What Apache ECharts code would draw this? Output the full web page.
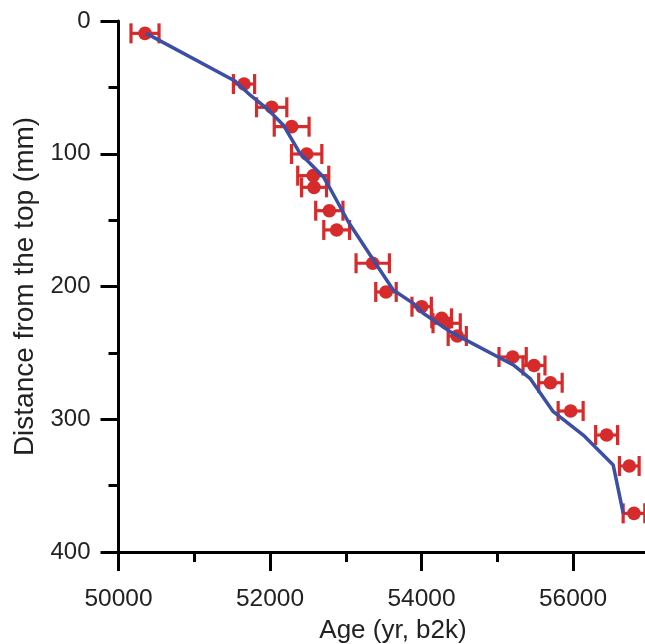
<!DOCTYPE html>
<html>
<head>
<meta charset="utf-8">
<script src="https://cdn.jsdelivr.net/npm/echarts@6/dist/echarts.min.js"></script>
<style>
html,body{margin:0;padding:0;background:#fff;overflow:hidden;}
#chart{width:645px;height:644px;}
</style>
</head>
<body>
<div id="chart"></div>
<script>
// Measured samples: age (yr b2k), depth (mm), age uncertainty (± yr)
const sampleAge = [50350, 51657, 52022, 52286, 52484, 52571, 52581, 52783, 52880, 53356, 53531,
  54002, 54266, 54332, 54472, 55203, 55485, 55702, 55969, 56444, 56743, 56805];
const sampleDepth = [9.3, 47.5, 65, 79.6, 100.2, 116.5, 125.3, 142.9, 157.4, 182.5, 204.1,
  215.2, 224, 227.7, 237.3, 253.1, 259.5, 272.5, 293.8, 311.9, 335.2, 370.9];
const sampleErr = [185, 140, 200, 230, 200, 205, 165, 180, 170, 220, 135,
  128, 130, 180, 120, 180, 145, 155, 165, 145, 130, 143];

// Age-depth model line
const modelAge = [50366, 51538, 51736, 51956, 52175, 52396, 52703, 52792, 53033, 53452, 53627,
  53891, 54023, 54376, 55212, 55432, 55739, 56135, 56531, 56663];
const modelDepth = [9.3, 45.2, 55.7, 65.8, 78.3, 99.7, 117.3, 126, 151.2, 187.6, 202.6,
  212.7, 220.2, 234, 259.1, 269.2, 294.3, 311.9, 334.5, 370.9];

const xTitle = 'Age (yr, b2k)';
const yTitle = 'Distance from the top (mm)';

const RED = '#d62a2b';
const BLUE = '#3c4ea5';
const FONT = '"Liberation Sans", Arial, Helvetica, sans-serif';

const errData = sampleAge.map((a, i) => [a, sampleDepth[i], sampleErr[i]]);
const lineData = modelAge.map((a, i) => [a, modelDepth[i]]);

const chart = echarts.init(document.getElementById('chart'), null, {renderer: 'canvas'});
chart.setOption({
  backgroundColor: '#fff',
  animation: false,
  grid: {left: 118.5, top: 21, width: 606, height: 531, containLabel: false, outerBoundsMode: 'none'},
  graphic: [{
    type: 'text', x: 393, y: 631, z: 10,
    style: {text: xTitle, fontFamily: FONT, fontSize: 26, fill: '#222',
      textAlign: 'center', textVerticalAlign: 'middle'}
  }],
  xAxis: {
    type: 'value', min: 50000, max: 58000, interval: 2000,
    axisLine: {show: true, onZero: false, lineStyle: {color: '#000', width: 3}},
    axisTick: {show: true, length: 19, lineStyle: {color: '#000', width: 3}},
    minorTick: {show: true, splitNumber: 2, length: 10, lineStyle: {color: '#000', width: 3}},
    splitLine: {show: false}, minorSplitLine: {show: false},
    axisLabel: {margin: 35, fontFamily: FONT, fontSize: 24.5, color: '#222',
      formatter: v => String(v)}
  },
  yAxis: {
    type: 'value', min: 0, max: 400, interval: 100, inverse: true,
    name: yTitle, nameLocation: 'middle', nameGap: 78, nameRotate: 90,
    nameTextStyle: {fontFamily: FONT, fontSize: 28, color: '#222'},
    axisLine: {show: true, onZero: false, lineStyle: {color: '#000', width: 3}},
    axisTick: {show: true, length: 18, lineStyle: {color: '#000', width: 3}},
    minorTick: {show: true, splitNumber: 2, length: 10, lineStyle: {color: '#000', width: 3}},
    splitLine: {show: false}, minorSplitLine: {show: false},
    axisLabel: {margin: 28, fontFamily: FONT, fontSize: 24, color: '#222'}
  },
  series: [
    {
      type: 'custom',
      data: errData,
      z: 2,
      renderItem: function (params, api) {
        const x = api.value(0), y = api.value(1), e = api.value(2);
        const l = api.coord([x - e, y]);
        const r = api.coord([x + e, y]);
        const c = api.coord([x, y]);
        const cap = 10;
        const st = {stroke: RED, lineWidth: 3.2};
        return {
          type: 'group',
          children: [
            {type: 'line', shape: {x1: l[0], y1: l[1], x2: r[0], y2: r[1]}, style: st},
            {type: 'line', shape: {x1: l[0], y1: l[1] - cap, x2: l[0], y2: l[1] + cap}, style: st},
            {type: 'line', shape: {x1: r[0], y1: r[1] - cap, x2: r[0], y2: r[1] + cap}, style: st},
            {type: 'circle', shape: {cx: c[0], cy: c[1], r: 6.8}, style: {fill: RED}}
          ]
        };
      }
    },
    {
      type: 'line',
      data: lineData,
      z: 3,
      showSymbol: false,
      symbol: 'none',
      smooth: false,
      lineStyle: {color: BLUE, width: 3.5}
    }
  ]
});
</script>
</body>
</html>
